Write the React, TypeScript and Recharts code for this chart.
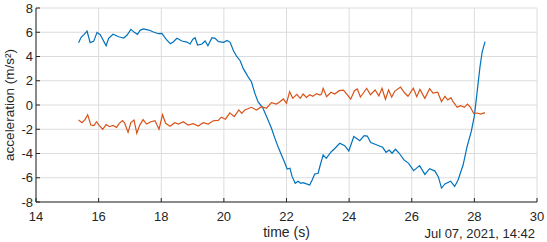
import React from 'react';
import { LineChart, Line, XAxis, YAxis, CartesianGrid } from 'recharts';

const blueTime = [
  15.36, 15.44, 15.54, 15.63, 15.73, 15.84, 15.95, 16.05, 16.24, 16.32, 16.46, 16.64, 16.8, 16.91,
  17.03, 17.14, 17.24, 17.33, 17.44, 17.6, 17.75, 17.91, 18.02, 18.16, 18.29, 18.39, 18.5, 18.66,
  18.82, 18.92, 19.01, 19.08, 19.16, 19.3, 19.4, 19.49, 19.62, 19.72, 19.83, 19.99, 20.1, 20.2,
  20.31, 20.41, 20.52, 20.62, 20.78, 20.88, 20.99, 21.09, 21.25, 21.41, 21.52, 21.63, 21.73, 21.84,
  21.95, 22.02, 22.11, 22.18, 22.28, 22.37, 22.46, 22.53, 22.64, 22.74, 22.82, 22.9, 23.01, 23.07,
  23.17, 23.27, 23.43, 23.55, 23.7, 23.86, 23.99, 24.15, 24.34, 24.48, 24.58, 24.69, 24.83, 24.95,
  25.07, 25.18, 25.28, 25.37, 25.48, 25.6, 25.75, 25.9, 26.06, 26.25, 26.42, 26.57, 26.74, 26.85,
  26.95, 27.06, 27.24, 27.37, 27.48, 27.64, 27.77, 27.9, 28.0, 28.08, 28.18, 28.25, 28.34,
];
const blueValue = [
  5.14, 5.58, 5.83, 6.1, 5.14, 5.25, 5.99, 5.8, 4.89, 5.5, 5.83, 5.63, 5.52, 5.77,
  6.24, 5.99, 5.83, 6.18, 6.27, 6.18, 6.02, 5.88, 5.91, 5.42, 5.05, 5.22, 5.5, 5.28,
  5.19, 5.03, 5.42, 5.55, 4.95, 5.03, 5.28, 4.89, 5.55, 5.5, 5.22, 5.17, 5.33, 5.17,
  4.45, 4.0, 3.65, 3.0, 2.3, 1.92, 0.96, 0.27, -0.27, -1.24, -1.92, -2.75, -3.44, -4.12,
  -4.81, -5.28, -5.22, -5.91, -6.46, -6.29, -6.46, -6.4, -6.51, -6.6, -6.18, -5.69, -5.63, -5.03,
  -4.12, -4.4, -3.85, -3.57, -3.16, -3.36, -3.79, -2.6, -2.94, -2.53, -2.56, -3.1, -3.24, -3.36,
  -3.49, -3.9, -3.71, -3.98, -3.65, -3.98, -4.53, -4.81, -5.41, -5.0, -5.72, -5.25, -5.45, -5.93,
  -6.85, -6.51, -6.28, -6.72, -6.18, -4.95, -3.4, -2.2, -0.9, 0.9, 3.16, 4.39, 5.22,
];

const redTime = [
  15.36, 15.47, 15.57, 15.65, 15.75, 15.85, 15.93, 16.03, 16.13, 16.24, 16.35, 16.46, 16.57, 16.66,
  16.76, 16.83, 16.94, 17.03, 17.13, 17.22, 17.31, 17.42, 17.53, 17.67, 17.8, 17.93, 18.04, 18.14,
  18.28, 18.43, 18.55, 18.7, 18.86, 19.02, 19.18, 19.34, 19.5, 19.66, 19.82, 19.92, 20.05, 20.19,
  20.33, 20.48, 20.57, 20.67, 20.88, 21.04, 21.2, 21.36, 21.52, 21.68, 21.79, 21.9, 22.0, 22.1,
  22.2, 22.33, 22.44, 22.53, 22.64, 22.74, 22.84, 22.96, 23.07, 23.12, 23.17, 23.28, 23.42, 23.54,
  23.68, 23.82, 23.95, 24.05, 24.17, 24.26, 24.36, 24.46, 24.56, 24.68, 24.83, 24.95, 25.05, 25.16,
  25.26, 25.36, 25.46, 25.64, 25.77, 25.88, 26.05, 26.16, 26.26, 26.42, 26.57, 26.68, 26.83, 26.95,
  27.06, 27.15, 27.25, 27.32, 27.45, 27.56, 27.68, 27.78, 27.87, 27.98, 28.09, 28.2, 28.34,
];
const redValue = [
  -1.24, -1.46, -1.18, -0.8, -1.65, -1.69, -1.38, -1.73, -2.0, -1.62, -1.79, -1.69, -1.85, -1.51,
  -1.29, -1.48, -2.26, -1.45, -1.24, -2.33, -1.68, -1.21, -1.57, -1.38, -1.3, -2.0, -0.8, -1.51,
  -1.76, -1.46, -1.57, -1.38, -1.65, -1.54, -1.73, -1.46, -1.57, -1.3, -1.27, -1.0, -1.17, -0.65,
  -0.96, -0.41, -0.69, -0.41, -0.19, -0.41, -0.14, -0.27, 0.19, 0.08, 0.27, 0.5, 0.14, 1.1,
  0.55, 0.88, 0.55, 0.91, 0.63, 0.85, 0.72, 0.94, 0.82, 0.91, 1.38, 0.69, 1.05, 0.9,
  1.18, 1.22, 0.82, 0.48, 1.18, 1.33, 0.66, 1.01, 1.38, 0.85, 1.24, 0.75, 1.38, 0.47,
  1.24, 0.65, 1.15, 1.48, 1.01, 0.72, 1.38, 0.69, 1.29, 0.55, 1.35, 0.98, 1.05, 0.27,
  0.72, 0.41, 0.6, 0.27, -0.19, -0.05, -0.19, 0.08, -0.17, -0.7, -0.66, -0.75, -0.63,
];

const xTicks = [14, 16, 18, 20, 22, 24, 26, 28, 30];
const yTicks = [-8, -6, -4, -2, 0, 2, 4, 6, 8];
const xLabel = 'time (s)';
const yLabel = 'acceleration (m/s²)';
const dateLabel = 'Jul 07, 2021, 14:42';

const blueData = blueTime.map((t, i) => ({ t, v: blueValue[i] }));
const redData = redTime.map((t, i) => ({ t, v: redValue[i] }));

const FONT = "'Liberation Sans', Arial, Helvetica, sans-serif";
const AXIS = '#262626';
const TL = 4;

const BottomTick = (p: any) => (
  <g>
    <line x1={p.x} x2={p.x} y1={p.y} y2={p.y - TL} stroke={AXIS} strokeWidth={1} />
    <text x={p.x} y={p.y + 14} dy="0.36em" textAnchor="middle" fontSize={13} fontFamily={FONT} fill={AXIS}>
      {p.payload.value}
    </text>
  </g>
);
const LeftTick = (p: any) => (
  <g>
    <line x1={p.x} x2={p.x + TL} y1={p.y} y2={p.y} stroke={AXIS} strokeWidth={1} />
    <text x={p.x - 3} y={p.y} dy="0.36em" textAnchor="end" fontSize={13} fontFamily={FONT} fill={AXIS}>
      {p.payload.value}
    </text>
  </g>
);
const TopTick = (p: any) => (
  <line x1={p.x} x2={p.x} y1={p.y} y2={p.y + TL} stroke={AXIS} strokeWidth={1} />
);
const RightTick = (p: any) => (
  <line x1={p.x} x2={p.x - TL} y1={p.y} y2={p.y} stroke={AXIS} strokeWidth={1} />
);

const XLabelContent = (props: any) => {
  const vb = props.viewBox || { x: 36, y: 202, width: 501, height: 30 };
  const cx = vb.x + vb.width / 2;
  return (
    <g>
      <text x={cx} y={vb.y + 34.5} textAnchor="middle" fontSize={14} fontFamily={FONT} fill={AXIS}>
        {xLabel}
      </text>
      <text x={vb.x + vb.width - 2} y={vb.y + 36} textAnchor="end" fontSize={13} fontFamily={FONT} fill={AXIS}>
        {dateLabel}
      </text>
    </g>
  );
};

const YLabelContent = (props: any) => {
  const vb = props.viewBox || { x: 0, y: 8, width: 36, height: 194 };
  const cx = 9.5;
  const cy = vb.y + vb.height / 2;
  return (
    <text
      x={cx}
      y={cy}
      transform={`rotate(-90 ${cx} ${cy})`}
      textAnchor="middle"
      dominantBaseline="central"
      fontSize={13.5}
      fontFamily={FONT}
      fill={AXIS}
    >
      {yLabel}
    </text>
  );
};

export default function App() {
  return (
    <div style={{ position: 'absolute', left: 0, top: 0, width: 547, height: 242, background: '#fff' }}>
      <LineChart width={547} height={242} margin={{ top: 8, right: 10, bottom: 10, left: 0 }}>
        <CartesianGrid stroke="#dcdcdc" strokeWidth={1} />
        <XAxis
          dataKey="t"
          type="number"
          domain={[14, 30]}
          ticks={xTicks}
          interval={0}
          allowDataOverflow
          height={30}
          tickSize={0}
          tickMargin={0}
          tick={<BottomTick />}
          axisLine={{ stroke: AXIS, strokeWidth: 1 }}
          label={{ content: <XLabelContent /> } as any}
        />
        <XAxis
          xAxisId="top"
          orientation="top"
          dataKey="t"
          type="number"
          domain={[14, 30]}
          ticks={xTicks}
          interval={0}
          allowDataOverflow
          height={0}
          tickSize={0}
          tickMargin={0}
          tick={<TopTick />}
          axisLine={{ stroke: AXIS, strokeWidth: 1 }}
        />
        <YAxis
          type="number"
          domain={[-8, 8]}
          ticks={yTicks}
          interval={0}
          allowDataOverflow
          width={36}
          tickSize={0}
          tickMargin={0}
          tick={<LeftTick />}
          axisLine={{ stroke: AXIS, strokeWidth: 1 }}
          label={{ content: <YLabelContent /> } as any}
        />
        <YAxis
          yAxisId="right"
          orientation="right"
          type="number"
          domain={[-8, 8]}
          ticks={yTicks}
          interval={0}
          allowDataOverflow
          width={0}
          tickSize={0}
          tickMargin={0}
          tick={<RightTick />}
          axisLine={{ stroke: AXIS, strokeWidth: 1 }}
        />
        <Line
          data={blueData}
          dataKey="v"
          type="linear"
          stroke="#0072BD"
          strokeWidth={1.2}
          dot={false}
          activeDot={false}
          isAnimationActive={false}
        />
        <Line
          data={redData}
          dataKey="v"
          type="linear"
          stroke="#D95319"
          strokeWidth={1.2}
          dot={false}
          activeDot={false}
          isAnimationActive={false}
        />
      </LineChart>
    </div>
  );
}
